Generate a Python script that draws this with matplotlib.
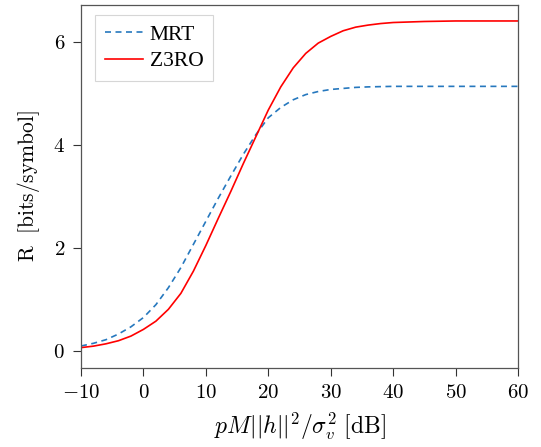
import matplotlib
matplotlib.use("Agg")
import matplotlib.pyplot as plt
from matplotlib.ticker import FixedLocator, FuncFormatter

snr_db = [-10, -8, -6, -4, -2, 0, 2, 4, 6, 8, 10, 12, 14, 16, 18, 20, 22, 24, 26,
          28, 30, 32, 34, 36, 38, 40, 45, 50, 55, 60]
rate_z3ro = [0.066, 0.095, 0.14, 0.20, 0.29, 0.42, 0.58, 0.81, 1.12, 1.55, 2.05,
             2.58, 3.10, 3.64, 4.16, 4.68, 5.13, 5.50, 5.78, 5.98, 6.11, 6.22, 6.29,
             6.33, 6.36, 6.38, 6.40, 6.41, 6.41, 6.41]
rate_mrt = [0.097, 0.15, 0.22, 0.33, 0.47, 0.65, 0.90, 1.23, 1.62, 2.07, 2.52,
            2.97, 3.40, 3.82, 4.20, 4.53, 4.73, 4.88, 4.98, 5.04, 5.08, 5.10, 5.12,
            5.13, 5.135, 5.14, 5.14, 5.14, 5.14, 5.14]
xticks = [-10, 0, 10, 20, 30, 40, 50, 60]
yticks = [0, 2, 4, 6]

plt.rcParams['font.family'] = ['Liberation Serif', 'DejaVu Serif']
plt.rcParams['mathtext.fontset'] = 'cm'

fig = plt.figure(figsize=(5.41, 4.47), dpi=100)
ax = fig.add_axes([0.1497, 0.1767, 0.9575 - 0.1497, 0.9888 - 0.1767])

ax.plot(snr_db, rate_mrt, linestyle='--', dashes=(3.6, 2.7), color='#2678be',
        lw=1.2, label='MRT')
ax.plot(snr_db, rate_z3ro, linestyle='-', color='red', lw=1.2, label='Z3RO')

ax.set_xlim(-10, 60)
ax.set_ylim(-0.33, 6.72)
ax.xaxis.set_major_locator(FixedLocator(xticks))
ax.yaxis.set_major_locator(FixedLocator(yticks))
fmt = FuncFormatter(lambda v, p: r'$%d$' % v)
ax.xaxis.set_major_formatter(fmt)
ax.yaxis.set_major_formatter(fmt)
ax.tick_params(axis='both', direction='out', length=5.5, width=0.8, labelsize=15,
               pad=6, colors='#333333', labelcolor='black')
for s in ax.spines.values():
    s.set_color('#555555')
    s.set_linewidth(0.9)

ax.set_xlabel(r'$pM||h||^2/\sigma_v^2\ \mathrm{[dB]}$', fontsize=17, labelpad=6)
ax.set_ylabel(r'$\mathrm{R\ \ [bits/symbol]}$', fontsize=15.5, labelpad=8)

leg = ax.legend(loc='upper left', bbox_to_anchor=(0.032, 0.9725), borderaxespad=0,
                fontsize=15.5, frameon=True, fancybox=False,
                edgecolor='#cccccc', handlelength=1.8, borderpad=0.45,
                labelspacing=0.3, handletextpad=0.3)
leg.get_frame().set_linewidth(0.8)

fig.savefig('out.png', dpi=100)
